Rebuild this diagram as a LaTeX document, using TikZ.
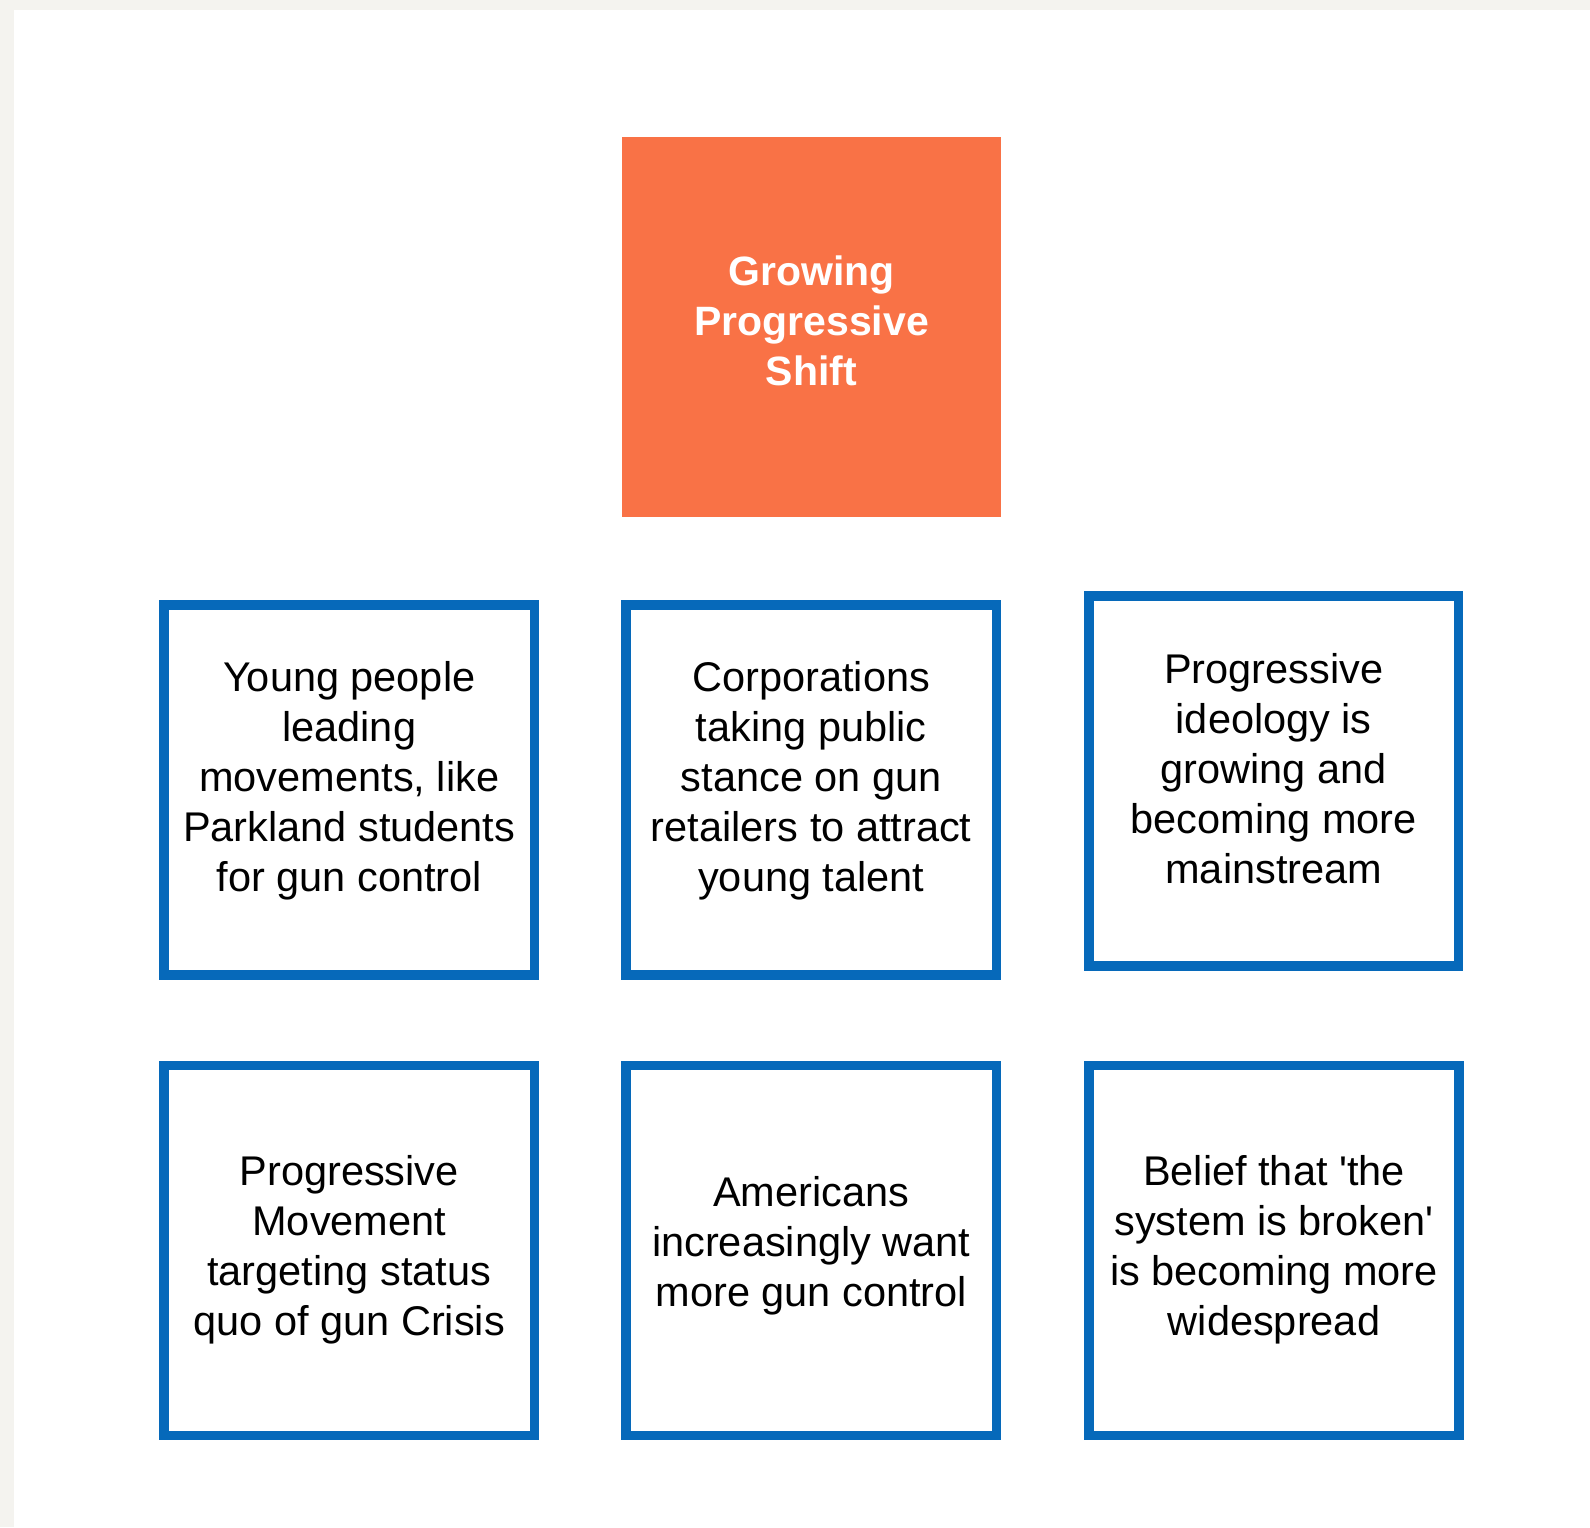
\documentclass[tikz,border=0pt]{standalone}
\usepackage{fontspec}
\setmainfont{Liberation Sans}
\definecolor{pageGray}{HTML}{F4F3EF}
\definecolor{boxOrange}{HTML}{F97246}
\definecolor{boxBlue}{HTML}{0669BA}
\newcommand{\fs}{\rule[-15pt]{0pt}{50pt}}
\tikzset{
  bluebox/.style={draw=boxBlue, line width=9.5pt, fill=white, rectangle, inner sep=0pt, minimum width=370.5pt, minimum height=370pt},
  orangebox/.style={fill=boxOrange, rectangle, inner sep=0pt, minimum width=379pt, minimum height=380pt},
  boxtext/.style={anchor=north, inner sep=0pt, align=center, font=\fontsize{41.5pt}{50pt}\selectfont, text=black},
  titletext/.style={anchor=north, inner sep=0pt, align=center, font=\fontsize{41pt}{50pt}\selectfont\bfseries, text=white}
}
\begin{document}
\begin{tikzpicture}[x={(1pt,0)}, y={(0,-1pt)}]
\useasboundingbox (0,0) rectangle (1590,1527);
\fill[pageGray] (0,0) rectangle (1590,1527);
\fill[white] (14,10) rectangle (1590,1527);

\node[orangebox] (top) at (811.5,327) {};
\node[titletext] (toptext) at (811.5,250) {\fs Growing\\Progressive\\Shift};

\node[bluebox] (b1) at (349.25,790) {};
\node[bluebox] (b2) at (811.25,790) {};
\node[bluebox, minimum width=369.5pt] (b3) at (1273.75,781) {};
\node[bluebox] (b4) at (349.25,1250.5) {};
\node[bluebox] (b5) at (811.25,1250.5) {};
\node[bluebox, minimum width=370pt] (b6) at (1274,1250.5) {};

\node[boxtext] (t1) at (349.25,656.7) {\fs Young people\\leading\\movements, like\\Parkland students\\for gun control};
\node[boxtext] (t2) at (811.25,656.7) {\fs Corporations\\taking public\\stance on gun\\retailers to attract\\young talent};
\node[boxtext] (t3) at (1273.75,648.3) {\fs Progressive\\ideology is\\growing and\\becoming more\\mainstream};
\node[boxtext] (t4) at (349.25,1150) {\fs Progressive\\Movement\\targeting status\\quo of gun Crisis};
\node[boxtext] (t5) at (811.25,1171.7) {\fs Americans\\increasingly want\\more gun control};
\node[boxtext] (t6) at (1274,1150) {\fs Belief that \textquotesingle the\\system is broken\textquotesingle\\is becoming more\\widespread};
\end{tikzpicture}
\end{document}
